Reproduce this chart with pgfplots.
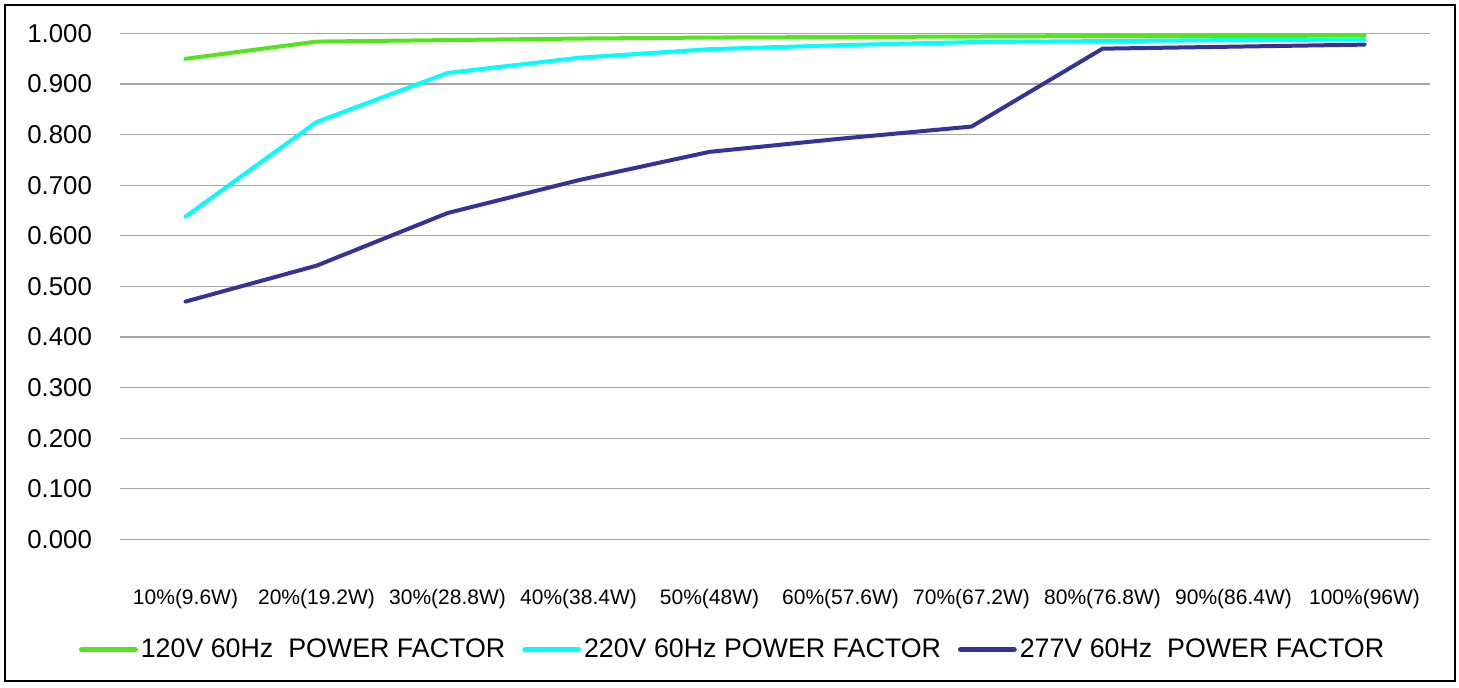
\documentclass[border=0pt]{standalone}
\usepackage{fontspec}
\setmainfont{Liberation Sans}
\usepackage{pgfplots}
\pgfplotsset{compat=1.18}
\definecolor{pfgreen}{HTML}{52E61A}
\definecolor{pfcyan}{HTML}{00FFFF}
\definecolor{pfnavy}{HTML}{333399}
\definecolor{gridgray}{HTML}{A6A6A6}
\begin{document}
\begin{tikzpicture}
\path (-60pt,-73.85pt) rectangle (669.5pt,269.65pt);
\begin{axis}[
  scale only axis,
  width=655pt, height=252.9pt,
  xmin=-0.5, xmax=9.5,
  ymin=0, ymax=1,
  clip=false,
  xtick={0,...,9},
  xticklabels={10\%(9.6W),20\%(19.2W),30\%(28.8W),40\%(38.4W),50\%(48W),60\%(57.6W),70\%(67.2W),80\%(76.8W),90\%(86.4W),100\%(96W)},
  ytick={0,0.1,0.2,0.3,0.4,0.5,0.6,0.7,0.8,0.9,1.0},
  /pgf/number format/fixed,
  /pgf/number format/fixed zerofill,
  /pgf/number format/precision=3,
  /pgf/number format/assume math mode=true,
  yticklabel style={font=\fontsize{12.9}{14}\selectfont},
  xticklabel style={font=\fontsize{10.5}{12}\selectfont, yshift=-21.5pt},
  yticklabel shift=10.5pt,
  ymajorgrids,
  major grid style={gridgray, line width=0.6pt},
  axis line style={draw=none},
  major tick length=0pt,
  legend columns=3,
  legend style={at={(0.468,-0.218)}, anchor=center, draw=none, fill=none,
    font=\fontsize{13.4}{15}\selectfont,
    nodes={inner sep=1.5pt},
    /tikz/every even column/.append style={column sep=7pt}},
  legend image code/.code={\draw[#1, line width=2.4pt] (0pt,0pt) -- (27pt,0pt);},
  every axis plot/.append style={line width=2pt, line join=round, line cap=round},
]
\addplot[pfgreen] coordinates {(0,0.950) (1,0.984) (2,0.987) (3,0.990) (4,0.992) (5,0.993) (6,0.994) (7,0.995) (8,0.995) (9,0.996)};
\addlegendentry{120V 60Hz\ \ POWER FACTOR}
\addplot[pfcyan] coordinates {(0,0.638) (1,0.825) (2,0.922) (3,0.952) (4,0.969) (5,0.977) (6,0.983) (7,0.985) (8,0.987) (9,0.988)};
\addlegendentry{220V 60Hz POWER FACTOR}
\addplot[pfnavy] coordinates {(0,0.470) (1,0.541) (2,0.645) (3,0.710) (4,0.766) (5,0.792) (6,0.816) (7,0.970) (8,0.974) (9,0.978)};
\addlegendentry{277V 60Hz\ \ POWER FACTOR}
\end{axis}
\draw[black, line width=1.2pt] (-57.5pt,-70.85pt) rectangle (667.5pt,267.15pt);
\end{tikzpicture}
\end{document}
